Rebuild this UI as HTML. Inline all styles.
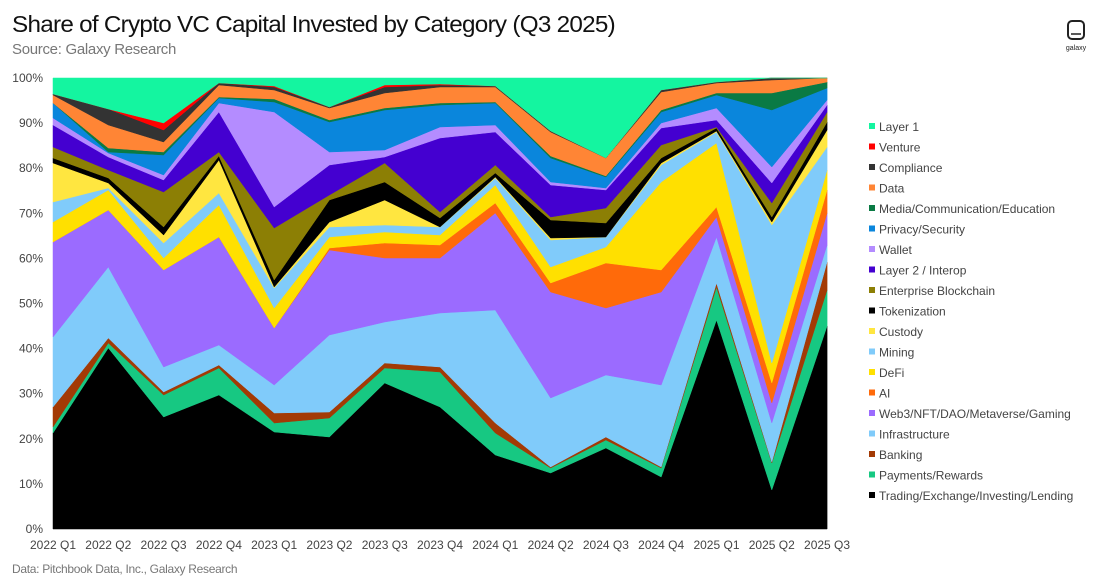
<!DOCTYPE html>
<html><head><meta charset="utf-8">
<style>
body{margin:0;background:#fff;font-family:"Liberation Sans",sans-serif;}
svg{display:block}
</style></head>
<body>
<svg id="s" width="1100" height="582" viewBox="0 0 1100 582" xmlns="http://www.w3.org/2000/svg">
<rect width="1100" height="582" fill="#fff"/>
<text x="12" y="32" font-size="23.5" fill="#111" font-family="Liberation Sans, sans-serif" letter-spacing="-0.7" textLength="603" lengthAdjust="spacingAndGlyphs">Share of Crypto VC Capital Invested by Category (Q3 2025)</text>
<text x="12" y="54" font-size="15" fill="#777" font-family="Liberation Sans, sans-serif" letter-spacing="-0.3">Source: Galaxy Research</text>
<text x="12" y="573" font-size="12" fill="#777" font-family="Liberation Sans, sans-serif" letter-spacing="-0.3">Data: Pitchbook Data, Inc., Galaxy Research</text>
<rect x="1068" y="21" width="16" height="18" rx="4" fill="none" stroke="#222" stroke-width="2"/>
<line x1="1071" y1="34" x2="1081" y2="34" stroke="#222" stroke-width="1.5"/>
<text x="1076" y="50" font-size="7" text-anchor="middle" fill="#222">galaxy</text>
<g id="areas"></g>
<line x1="53" y1="529.5" x2="827" y2="529.5" stroke="#bbb" stroke-width="1"/>
<g id="labels" font-size="12" fill="#444" font-family="Liberation Sans, sans-serif"></g>
</svg>
<script>
var X=[];for(var i=0;i<15;i++)X.push(53+i*55.29);
var S=[
["Trading/Exchange/Investing/Lending","#000000",[433,348,417,395,432,437,383,407,455,473,448,477,320,490,326]],
["Payments/Rewards","#17c882",[427,343,395,368,423,418,368,372,433,468,440,468,287,463,290]],
["Banking","#a33a05",[407,338,392,365,413,412,363,367,423,467,437,467,283,462,262]],
["Infrastructure","#80cbfa",[337,267,367,345,385,335,322,313,310,398,375,385,237,423,245]],
["Web3/NFT/DAO/Metaverse/Gaming","#9b6bff",[242,210,270,237,328,250,258,258,213,292,308,292,217,403,213]],
["AI","#ff6a0a",[242,210,270,237,328,248,243,245,203,283,263,270,207,383,190]],
["DeFi","#ffe000",[222,190,258,205,308,237,232,235,185,267,247,182,143,363,170]],
["Mining","#80cbfa",[202,188,243,193,288,227,225,227,178,240,237,165,132,225,147]],
["Custody","#ffe640",[163,183,235,160,287,222,200,227,177,238,237,163,131,222,130]],
["Tokenization","#000000",[158,178,227,156,280,200,182,218,173,220,223,158,128,217,122]],
["Enterprise Blockchain","#8c7f05",[147,170,192,152,228,195,163,212,165,217,208,145,127,203,112]],
["Layer 2 / Interop","#4400d0",[125,157,180,112,207,165,157,138,132,185,190,128,120,183,105]],
["Wallet","#b48cff",[118,153,175,103,112,152,150,127,125,182,188,123,108,167,100]],
["Privacy/Security","#0a86dc",[103,152,155,98,102,122,110,105,103,158,177,112,95,110,88]],
["Media/Communication/Education","#0a7a44",[103,148,152,97,99,120,108,103,102,156,176,110,93,93,82]],
["Data","#ff8535",[95,125,142,85,90,108,93,87,87,132,158,92,83,80,78]],
["Compliance","#333333",[94,109,130,83,87,107,87,85,86,131,158,90,82,78,78]],
["Venture","#ff0000",[94,109,123,83,86,107,85,84,86,131,158,90,82,78,78]],
["Layer 1","#14f5a0",[78,78,78,78,78,78,78,78,78,78,78,78,78,78,78]]
];
var ns="http://www.w3.org/2000/svg",g=document.getElementById("areas"),prev=[];
for(i=0;i<15;i++)prev.push(529);
S.forEach(function(s){
 var pts=[];
 for(var i=0;i<15;i++)pts.push(X[i].toFixed(1)+","+s[2][i]);
 for(var i=14;i>=0;i--)pts.push(X[i].toFixed(1)+","+prev[i]);
 var p=document.createElementNS(ns,"polygon");
 p.setAttribute("points",pts.join(" "));p.setAttribute("fill",s[1]);
 p.setAttribute("stroke",s[1]);p.setAttribute("stroke-width","0.5");
 g.appendChild(p);prev=s[2];
});
var L=document.getElementById("labels");
function t(x,y,txt,anchor,size){var e=document.createElementNS(ns,"text");e.setAttribute("x",x);e.setAttribute("y",y);if(anchor)e.setAttribute("text-anchor",anchor);if(size)e.setAttribute("font-size",size);e.textContent=txt;L.appendChild(e);}
for(i=0;i<=10;i++)t(43,529-i*45.1+4,(i*10)+"%","end");
var q=["2022 Q1","2022 Q2","2022 Q3","2022 Q4","2023 Q1","2023 Q2","2023 Q3","2023 Q4","2024 Q1","2024 Q2","2024 Q3","2024 Q4","2025 Q1","2025 Q2","2025 Q3"];
for(i=0;i<15;i++)t(X[i],549,q[i],"middle");
for(i=0;i<19;i++){var s=S[18-i];var y=127+i*20.5;
 var r=document.createElementNS(ns,"rect");r.setAttribute("x",869);r.setAttribute("y",y-4);r.setAttribute("width",6);r.setAttribute("height",6);r.setAttribute("fill",s[1]);L.appendChild(r);
 t(879,y+4,s[0],null,"12");}
</script>
</body></html>
